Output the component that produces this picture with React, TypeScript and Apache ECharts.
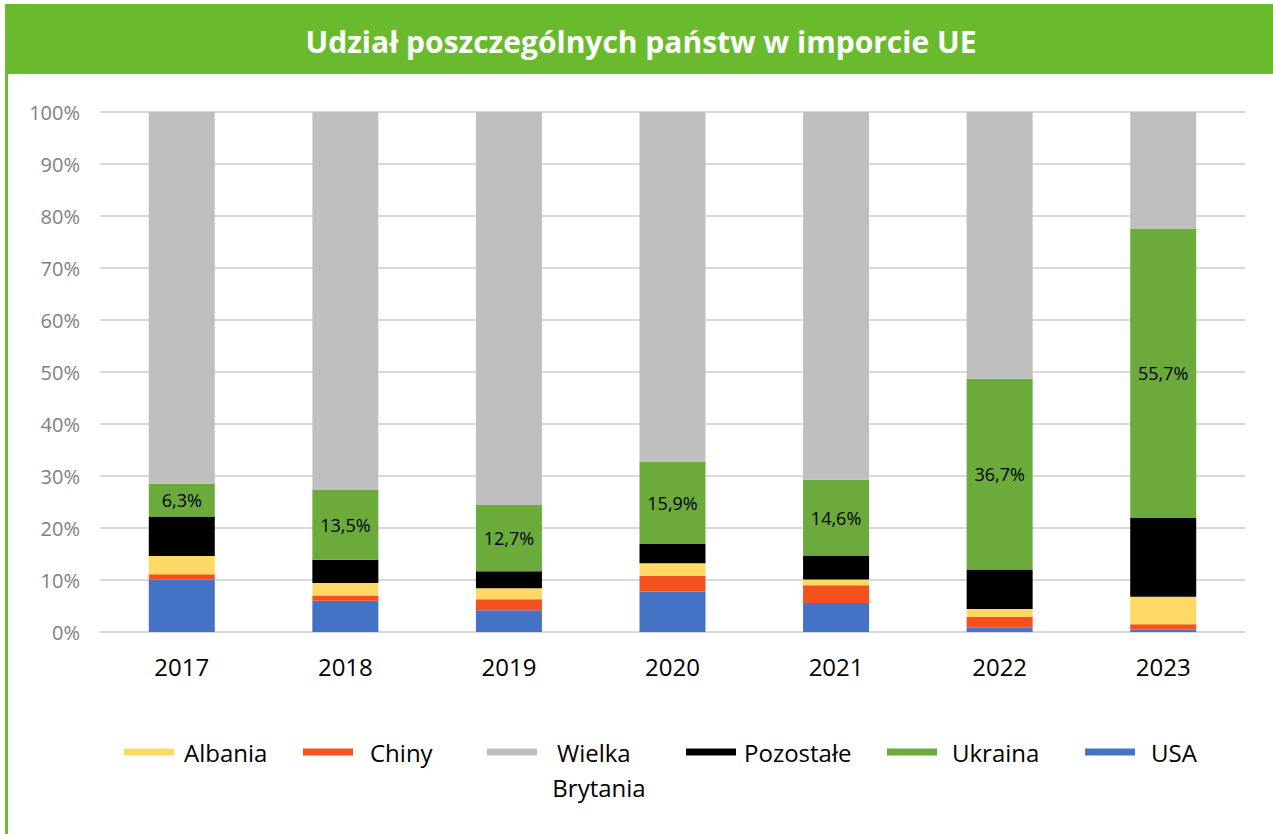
import React, { useEffect, useRef } from "react";
import * as echarts from "echarts";

const years = ["2017", "2018", "2019", "2020", "2021", "2022", "2023"];
const usa = [10.1, 6.0, 4.2, 7.8, 5.6, 0.8, 0.5];
const chiny = [1.0, 1.0, 2.1, 3.0, 3.4, 2.1, 1.0];
const albania = [3.5, 2.4, 2.1, 2.4, 1.1, 1.5, 5.3];
const pozostale = [7.6, 4.5, 3.3, 3.7, 4.6, 7.6, 15.1];
const ukraina = [6.3, 13.5, 12.7, 15.9, 14.6, 36.7, 55.7];
const wielkaBrytania = [71.5, 72.6, 75.6, 67.2, 70.7, 51.3, 22.4];

const FONT = "'Open Sans', sans-serif";

export default function App() {
  const ref = useRef<HTMLDivElement>(null);
  useEffect(() => {
    if (!ref.current) return;
    const chart = echarts.init(ref.current, null, { renderer: "svg" });
    const mk = (name: string, data: number[], color: string, label = false) => ({
      name,
      type: "bar",
      stack: "total",
      data,
      barWidth: 66,
      itemStyle: { color },
      label: label
        ? {
            show: true,
            position: "inside",
            color: "#000",
            fontSize: 18,
            fontFamily: FONT,
            formatter: (p: any) => String(p.value).replace(".", ",") + "%",
          }
        : { show: false },
    });
    const legendItem = (name: string, left: number, gap: number, fmt?: string) => ({
      data: [{ name, icon: "rect" }],
      left,
      top: 740,
      padding: 0,
      itemWidth: 50,
      itemHeight: 7,
      selectedMode: false,
      formatter: fmt ? () => fmt : undefined,
      textStyle: {
        fontSize: 24,
        fontFamily: FONT,
        color: "#000",
        padding: [0, 0, 0, gap],
      },
    });
    chart.setOption({
      animation: false,
      backgroundColor: "#fff",
      grid: { left: 100, right: 28, top: 112, bottom: 202 },
      xAxis: {
        type: "category",
        data: years,
        axisLine: { show: true, lineStyle: { color: "#d9d9d9", width: 2 } },
        axisTick: { show: false },
        axisLabel: { color: "#000", fontSize: 24, fontFamily: FONT, margin: 22 },
      },
      yAxis: {
        type: "value",
        min: 0,
        max: 100,
        interval: 10,
        axisLabel: {
          formatter: "{value}%",
          color: "#808080",
          fontSize: 20,
          fontFamily: FONT,
          margin: 20,
        },
        axisLine: { show: false },
        axisTick: { show: false },
        splitLine: { lineStyle: { color: "#d9d9d9", width: 2 } },
      },
      legend: [
        legendItem("Albania", 124, 5),
        legendItem("Chiny", 303, 12),
        legendItem("Wielka Brytania", 487, 15, "Wielka"),
        legendItem("Pozostałe", 686, 3),
        legendItem("Ukraina", 887, 10),
        legendItem("USA", 1085, 11),
      ],
      series: [
        mk("USA", usa, "#4472C4"),
        mk("Chiny", chiny, "#F4511E"),
        mk("Albania", albania, "#FFD966"),
        mk("Pozostałe", pozostale, "#000000"),
        mk("Ukraina", ukraina, "#6AAB3C", true),
        mk("Wielka Brytania", wielkaBrytania, "#BFBFBF"),
      ],
      graphic: [
        {
          type: "rect",
          shape: { x: 5, y: 4, width: 1268, height: 70 },
          style: { fill: "#69BB2D" },
          silent: true,
        },
        {
          type: "rect",
          shape: { x: 5, y: 74, width: 3, height: 760 },
          style: { fill: "#69BB2D" },
          silent: true,
        },
        {
          type: "text",
          x: 641,
          y: 41,
          style: {
            text: "Udział poszczególnych państw w imporcie UE",
            fill: "#fff",
            fontSize: 30,
            fontWeight: "bold",
            fontFamily: FONT,
            align: "center",
            verticalAlign: "middle",
          },
        },
        {
          type: "text",
          x: 599,
          y: 787,
          style: {
            text: "Brytania",
            fill: "#000",
            fontSize: 24,
            fontFamily: FONT,
            align: "center",
            verticalAlign: "middle",
          },
        },
      ],
    });
    return () => chart.dispose();
  }, []);
  return (
    <div
      ref={ref}
      style={{ position: "absolute", left: 0, top: 0, width: 1273, height: 834 }}
    />
  );
}
